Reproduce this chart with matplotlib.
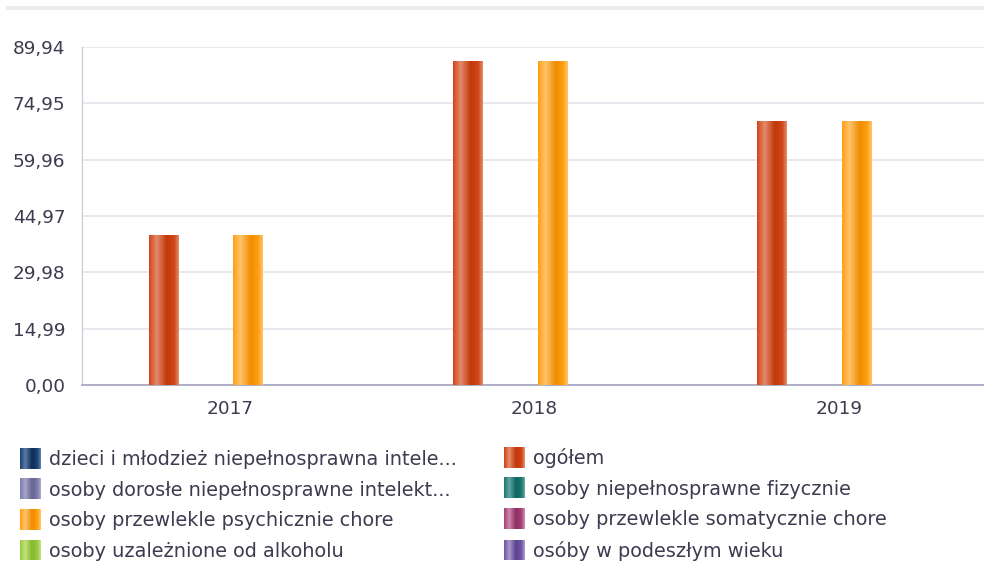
import numpy as np
import matplotlib.pyplot as plt
import matplotlib.colors as mcolors
from matplotlib.patches import Rectangle
from matplotlib.legend_handler import HandlerBase

# DATA
years = ['2017', '2018', '2019']
series = ['dzieci i młodzież niepełnosprawna intele...',
          'ogółem',
          'osoby dorosłe niepełnosprawne intelekt...',
          'osoby niepełnosprawne fizycznie',
          'osoby przewlekle psychicznie chore',
          'osoby przewlekle somatycznie chore',
          'osoby uzależnione od alkoholu',
          'osóby w podeszłym wieku']
dzieci = [0, 0, 0]
ogolem = [39.9, 86.2, 70.2]
dorosle = [0, 0, 0]
fizycznie = [0, 0, 0]
psychiczne = [39.9, 86.2, 70.2]
somatyczne = [0, 0, 0]
alkohol = [0, 0, 0]
wiek = [0, 0, 0]
values = [dzieci, ogolem, dorosle, fizycznie, psychiczne, somatyczne, alkohol, wiek]
yticks = [0, 14.99, 29.98, 44.97, 59.96, 74.95, 89.94]

# (light, base, dark) per series
colors = [('#5a7aa6', '#1f4675', '#0f2d58'),
          ('#e38c6c', '#d2451a', '#c23808'),
          ('#a6a6c8', '#7e7eaa', '#666694'),
          ('#5fa6a2', '#1e7a74', '#0f6560'),
          ('#ffc46e', '#fea012', '#f08c00'),
          ('#cf86a8', '#a8457a', '#8e2e62'),
          ('#c2e07a', '#9acb45', '#86b830'),
          ('#a898cc', '#7258a6', '#5c4290')]


def gradient_cmap(c):
    light, base, dark = c
    return mcolors.LinearSegmentedColormap.from_list(
        'g', [(0, base), (0.25, light), (0.6, dark), (0.85, base), (1.0, light)])


text_color = '#3c3c50'
fig = plt.figure(figsize=(9.84, 5.61), dpi=100)
ax = fig.add_axes([82 / 984, 1 - 385 / 561, 902 / 984, 338 / 561])

x = np.arange(len(years))
slot = 0.093
width = 0.098
grad = np.linspace(0, 1, 64).reshape(1, -1)
for k, vals in enumerate(values):
    bars = ax.bar(x + (k - 3.5) * slot + 0.014, vals, width=width, color='none',
                  edgecolor='none', zorder=3)
    cmap = gradient_cmap(colors[k])
    for b in bars:
        if b.get_height() <= 0:
            continue
        im = ax.imshow(grad, cmap=cmap, aspect='auto', zorder=3,
                       extent=[b.get_x(), b.get_x() + b.get_width(), 0, b.get_height()])
        im.set_clip_path(b)

ax.set_xlim(-0.486, 2.477)
ax.set_ylim(0, 89.94)
ax.set_yticks(yticks)
ax.set_yticklabels([f'{v:.2f}'.replace('.', ',') for v in yticks])
ax.set_xticks(x)
ax.set_xticklabels(years)
ax.tick_params(length=0, labelsize=13.3, colors=text_color)
ax.tick_params(axis='y', pad=12)
ax.tick_params(axis='x', pad=11)
ax.grid(axis='y', color='#e6e6ee', linewidth=1.3, zorder=0)
for s in ['top', 'right']:
    ax.spines[s].set_visible(False)
ax.spines['left'].set_color('#c8c8d8')
ax.spines['bottom'].set_color('#a8a8c4')
ax.spines['bottom'].set_linewidth(1.3)

# top band
fig.patches.append(Rectangle((6 / 984, 1 - 10 / 561), 1, 4 / 561, transform=fig.transFigure,
                             facecolor='#ececee', edgecolor='none'))

FS = 13.9
SW = 15.0  # swatch size in points (~21 px)


class GradientHandler(HandlerBase):
    def create_artists(self, legend, orig_handle, xdescent, ydescent, width, height, fontsize, trans):
        cmap = gradient_cmap(orig_handle.cols)
        n = 20
        out = []
        yc = -ydescent + height / 2
        for i in range(n):
            r = Rectangle((-xdescent + SW * i / n, yc - SW / 2), SW / n + 0.3, SW,
                          facecolor=cmap(i / (n - 1)), edgecolor='none', transform=trans)
            out.append(r)
        return out


handles = []
for c in colors:
    h = Rectangle((0, 0), 1, 1)
    h.cols = c
    handles.append(h)

# legend is filled row by row: left column gets even items, right column odd items
for col, x0, y0 in [(0, 20, 450), (1, 504, 448)]:
    idx = list(range(col, len(series), 2))
    fig.legend([handles[i] for i in idx], [series[i] for i in idx],
               handler_map={Rectangle: GradientHandler()},
               loc='upper left', bbox_to_anchor=(x0 / 984, 1 - y0 / 561),
               frameon=False, fontsize=FS, labelcolor=text_color,
               handlelength=SW / FS, handletextpad=0.4, labelspacing=0.6,
               borderpad=0, borderaxespad=0)

fig.savefig('out.png', dpi=100)
